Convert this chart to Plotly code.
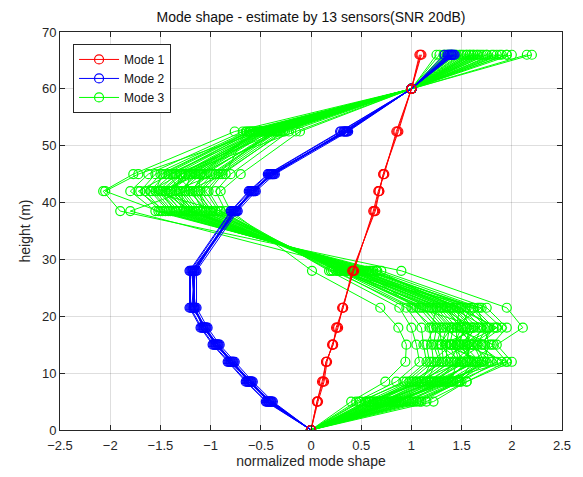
import plotly.graph_objects as go

heights = [0, 5, 8.5, 12, 15, 18, 21.5, 28, 38.5, 42, 45, 52.5, 60, 66]

mode1_runs = [
    [0, 0.06, 0.12, 0.15, 0.22, 0.26, 0.32, 0.42, 0.63, 0.68, 0.72, 0.86, 1.0, 1.09],
    [0, 0.07, 0.13, 0.16, 0.21, 0.27, 0.31, 0.43, 0.62, 0.67, 0.73, 0.85, 1.0, 1.10],
    [0, 0.06, 0.11, 0.15, 0.22, 0.25, 0.32, 0.41, 0.64, 0.68, 0.72, 0.87, 1.0, 1.08],
]

mode2_runs = [
    [0, -0.41, -0.61, -0.79, -0.94, -1.06, -1.17, -1.17, -0.76, -0.58, -0.39, 0.34, 1.0, 1.40],
    [0, -0.44, -0.64, -0.82, -0.97, -1.09, -1.20, -1.20, -0.79, -0.61, -0.42, 0.30, 1.0, 1.36],
    [0, -0.38, -0.58, -0.76, -0.91, -1.03, -1.14, -1.14, -0.73, -0.55, -0.36, 0.37, 1.0, 1.43],
    [0, -0.43, -0.60, -0.81, -0.93, -1.08, -1.15, -1.19, -0.75, -0.60, -0.38, 0.32, 1.0, 1.38],
    [0, -0.39, -0.63, -0.77, -0.96, -1.04, -1.19, -1.15, -0.78, -0.56, -0.41, 0.36, 1.0, 1.42],
    [0, -0.42, -0.59, -0.80, -0.92, -1.07, -1.16, -1.18, -0.74, -0.59, -0.37, 0.33, 1.0, 1.33],
    [0, -0.40, -0.62, -0.78, -0.95, -1.05, -1.18, -1.16, -0.77, -0.57, -0.40, 0.35, 1.0, 1.41],
    [0, -0.45, -0.65, -0.83, -0.98, -1.10, -1.21, -1.21, -0.80, -0.62, -0.43, 0.29, 1.0, 1.37],
    [0, -0.42, -0.62, -0.80, -0.95, -1.07, -1.17, -1.18, -0.77, -0.59, -0.40, 0.33, 1.0, 1.39],
    [0, -0.40, -0.60, -0.78, -0.93, -1.05, -1.16, -1.16, -0.75, -0.57, -0.38, 0.35, 1.0, 1.40],
]

mode3_runs = [
    [0, 0.72, 1.18, 1.45, 1.38, 1.42, 1.25, 0.38, -1.12, -1.28, -1.10, -0.42, 1.0, 1.52],
    [0, 0.85, 1.30, 1.60, 1.52, 1.60, 1.40, 0.45, -1.25, -1.42, -1.22, -0.50, 1.0, 1.65],
    [0, 0.60, 1.05, 1.30, 1.25, 1.30, 1.10, 0.30, -0.98, -1.15, -0.98, -0.35, 1.0, 1.40],
    [0, 0.95, 1.42, 1.72, 1.65, 1.75, 1.55, 0.55, -1.40, -1.58, -1.38, -0.58, 1.0, 1.80],
    [0, 0.50, 0.92, 1.15, 1.12, 1.10, 0.95, 0.25, -0.90, -1.02, -0.88, -0.28, 1.0, 1.32],
    [0, 0.78, 1.22, 1.52, 1.60, 1.48, 1.35, 0.42, -1.20, -1.35, -1.30, -0.47, 1.0, 1.58],
    [0, 1.05, 1.50, 1.85, 1.70, 1.82, 1.62, 0.60, -1.48, -1.65, -1.50, -0.62, 1.0, 1.90],
    [0, 0.65, 1.10, 1.40, 1.30, 1.35, 1.18, 0.35, -1.05, -1.20, -1.05, -0.38, 1.0, 1.45],
    [0, 0.88, 1.28, 1.62, 1.48, 1.66, 1.45, 0.48, -1.30, -1.45, -1.25, -0.52, 1.0, 1.70],
    [0, 0.55, 0.98, 1.22, 1.20, 1.18, 1.02, 0.28, -0.95, -1.10, -0.92, -0.30, 1.0, 1.36],
    [0, 1.15, 1.55, 1.95, 1.80, 1.95, 1.75, 0.70, -1.55, -1.80, -1.62, -0.68, 1.0, 2.00],
    [0, 0.70, 1.15, 1.48, 1.42, 1.50, 1.30, 0.40, -1.15, -1.30, -1.15, -0.45, 1.0, 1.55],
    [0, 0.80, 1.35, 1.55, 1.58, 1.55, 1.38, 0.44, -1.22, -1.40, -1.18, -0.48, 1.0, 1.62],
    [0, 0.45, 0.85, 1.08, 1.05, 1.00, 0.88, 0.18, -0.85, -0.95, -0.80, -0.22, 1.0, 1.28],
    [0, 0.92, 1.40, 1.70, 1.62, 1.70, 1.50, 0.52, -1.35, -1.52, -1.35, -0.55, 1.0, 1.75],
    [0, 0.62, 1.08, 1.35, 1.35, 1.38, 1.20, 0.32, -1.02, -1.22, -1.00, -0.36, 1.0, 1.42],
    [0, 1.00, 1.45, 1.78, 1.72, 1.78, 1.60, 0.58, -1.42, -1.60, -1.45, -0.60, 1.0, 1.85],
    [0, 0.75, 1.20, 1.50, 1.45, 1.45, 1.28, 0.40, -1.18, -1.32, -1.12, -0.44, 1.0, 1.55],
    [0, 0.58, 1.02, 1.28, 1.22, 1.25, 1.08, 0.30, -1.00, -1.12, -0.95, -0.33, 1.0, 1.38],
    [0, 0.85, 1.32, 1.58, 1.55, 1.62, 1.42, 0.46, -1.28, -1.48, -1.28, -0.50, 1.0, 1.68],
    [0, 1.22, 1.55, 2.00, 1.85, 2.11, 1.95, 0.90, -1.90, -2.07, -1.77, -0.76, 1.0, 2.20],
    [0, 0.40, 0.74, 0.94, 0.95, 0.87, 0.69, 0.01, -0.80, -0.90, -0.70, -0.11, 1.0, 1.25],
    [0, 0.68, 1.25, 1.95, 1.50, 1.85, 1.45, 0.66, -1.52, -2.05, -1.72, -0.50, 1.0, 2.15],
    [0, 1.10, 1.48, 1.60, 1.82, 1.40, 1.70, 0.20, -0.90, -1.60, -1.30, -0.15, 1.0, 1.95],
    [0, 0.82, 1.38, 1.75, 1.30, 1.68, 1.05, 0.50, -1.80, -1.25, -0.85, -0.65, 1.0, 1.35],
    [0, 0.70, 1.12, 1.38, 1.48, 1.52, 1.32, 0.36, -1.10, -1.25, -1.20, -0.40, 1.0, 1.48],
    [0, 0.90, 1.25, 1.65, 1.40, 1.58, 1.50, 0.50, -1.32, -1.50, -1.10, -0.55, 1.0, 1.72],
    [0, 0.55, 1.15, 1.25, 1.55, 1.32, 1.15, 0.27, -1.08, -1.18, -1.35, -0.32, 1.0, 1.44],
    [0, 0.98, 1.33, 1.80, 1.60, 1.85, 1.48, 0.62, -1.45, -1.72, -1.40, -0.58, 1.0, 1.88],
    [0, 0.66, 1.05, 1.50, 1.28, 1.40, 1.22, 0.34, -1.15, -1.38, -0.95, -0.40, 1.0, 1.50],
    [0, 0.82, 1.40, 1.45, 1.70, 1.50, 1.58, 0.47, -1.25, -1.30, -1.42, -0.49, 1.0, 1.62],
    [0, 0.48, 0.95, 1.18, 1.15, 1.22, 1.00, 0.22, -0.92, -1.05, -0.90, -0.26, 1.0, 1.33],
    [0, 1.02, 1.48, 1.70, 1.78, 1.72, 1.66, 0.55, -1.38, -1.55, -1.48, -0.61, 1.0, 1.82],
    [0, 0.74, 1.20, 1.55, 1.38, 1.62, 1.30, 0.41, -1.20, -1.48, -1.15, -0.46, 1.0, 1.60],
    [0, 0.62, 1.00, 1.32, 1.30, 1.28, 1.12, 0.33, -1.00, -1.18, -1.08, -0.34, 1.0, 1.40],
    [0, 0.88, 1.35, 1.68, 1.52, 1.75, 1.40, 0.52, -1.35, -1.50, -1.30, -0.53, 1.0, 1.75],
    [0, 0.78, 1.28, 1.42, 1.62, 1.45, 1.48, 0.43, -1.18, -1.40, -1.25, -0.45, 1.0, 1.58],
    [0, 1.08, 1.45, 1.90, 1.66, 1.90, 1.68, 0.65, -1.50, -1.70, -1.55, -0.64, 1.0, 1.95],
    [0, 0.58, 1.10, 1.20, 1.40, 1.20, 1.25, 0.29, -1.05, -1.12, -1.10, -0.31, 1.0, 1.38],
    [0, 0.84, 1.22, 1.65, 1.45, 1.55, 1.35, 0.44, -1.22, -1.45, -1.20, -0.50, 1.0, 1.66],
]

modes = [
    ("Mode 3", "#00ff00", mode3_runs, 3),
    ("Mode 2", "#0000ff", mode2_runs, 2),
    ("Mode 1", "#ff0000", mode1_runs, 1),
]

FONT = "Liberation Sans, Arial, sans-serif"

fig = go.Figure()
for name, color, runs, rank in modes:
    for i, run in enumerate(runs):
        fig.add_trace(go.Scatter(
            x=run, y=heights, mode="lines+markers", name=name,
            legendgroup=name, showlegend=(i == 0), legendrank=rank,
            line=dict(color=color, width=1),
            marker=dict(symbol="circle-open", size=9, color=color,
                        line=dict(width=1.2, color=color)),
        ))

axis_common = dict(
    showgrid=True, gridcolor="rgba(0,0,0,0.13)", gridwidth=1,
    showline=True, linecolor="#262626", linewidth=1, mirror="ticks",
    ticks="inside", ticklen=5, tickcolor="#262626",
    tickfont=dict(family=FONT, size=13, color="#262626"),
    zeroline=False, automargin=False,
)

# page body has an 8px margin, so the figure origin sits at (8, 8) in the window
fig.update_layout(
    width=583, height=477,
    margin=dict(l=52, r=29, t=24, b=55),
    paper_bgcolor="white", plot_bgcolor="white",
    title=dict(text="Mode shape - estimate by 13 sensors(SNR 20dB)",
               x=303 / 583, xanchor="center", y=1 - 9 / 477, yanchor="middle",
               font=dict(family=FONT, size=14, color="#111111")),
    xaxis=dict(range=[-2.5, 2.5], dtick=0.5, ticklabelstandoff=3,
               title=dict(text="normalized mode shape", standoff=4,
                          font=dict(family=FONT, size=14, color="#262626")),
               **axis_common),
    yaxis=dict(range=[0, 70], dtick=10,
               title=dict(text="height (m)", standoff=8,
                          font=dict(family=FONT, size=14, color="#262626")),
               **axis_common),
    legend=dict(x=0.026, y=0.97, xanchor="left", yanchor="top",
                bgcolor="white", bordercolor="#262626", borderwidth=1,
                font=dict(family=FONT, size=12, color="#111111"),
                tracegroupgap=0, itemwidth=40),
    showlegend=True,
)

fig.write_html("out.html")
